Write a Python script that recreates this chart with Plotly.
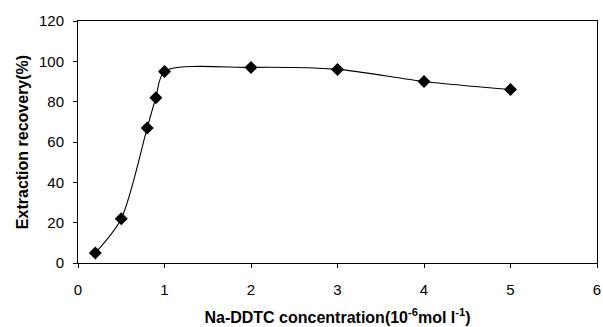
import plotly.graph_objects as go

concentration = [0.2, 0.5, 0.8, 0.9, 1.0, 2.0, 3.0, 4.0, 5.0]
recovery = [5, 22, 67, 82, 95, 97, 96, 90, 86]
x_ticks = [0, 1, 2, 3, 4, 5, 6]
y_ticks = [0, 20, 40, 60, 80, 100, 120]

fig = go.Figure()
fig.add_trace(go.Scatter(
    x=concentration, y=recovery, mode="lines+markers",
    line=dict(color="black", width=1.1, shape="spline", smoothing=0.8),
    marker=dict(symbol="diamond", size=10, color="black"),
    showlegend=False,
))

font = "Liberation Sans, Arial, sans-serif"
fig.update_layout(
    width=603, height=327,
    margin=dict(l=78, r=6, t=21, b=64),
    paper_bgcolor="white", plot_bgcolor="white",
    font=dict(family=font, size=15, color="black"),
)
fig.update_xaxes(
    range=[0, 6], tickvals=x_ticks, showgrid=False, zeroline=False,
    showline=True, linecolor="black", linewidth=1, mirror=True,
    ticks="outside", ticklen=4, tickcolor="black", ticklabelstandoff=9,
    tickfont=dict(size=15), automargin=False,
    title=dict(text="<b>Na-DDTC concentration(10<sup>-6</sup>mol l<sup>-1</sup>)</b>",
               font=dict(size=16), standoff=14),
)
fig.update_yaxes(
    range=[0, 120], tickvals=y_ticks, showgrid=False, zeroline=False,
    showline=True, linecolor="black", linewidth=1, mirror=True,
    ticks="outside", ticklen=4, tickcolor="black", ticklabelstandoff=6,
    tickfont=dict(size=15), automargin=False,
    title=dict(text="<b>Extraction recovery(%)</b>", font=dict(size=16), standoff=6),
)
fig.write_html("out.html")
